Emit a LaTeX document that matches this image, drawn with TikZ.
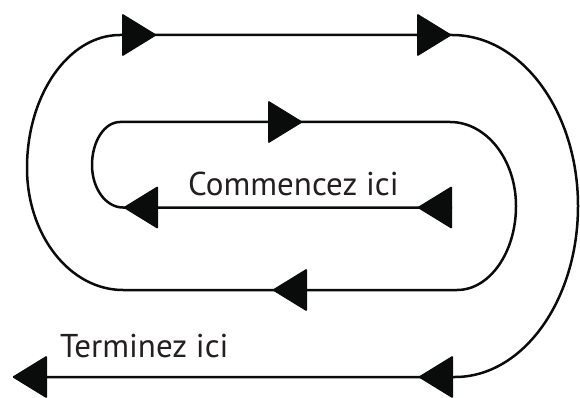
\documentclass[tikz,border=0pt]{standalone}
\usepackage{fontspec}
\setmainfont{PT Sans}
\definecolor{ink}{HTML}{0A0C0C}
\definecolor{txt}{HTML}{231F20}
\begin{document}
\begin{tikzpicture}[x=1pt,y=-1pt,
  track/.style={line width=2.5pt, draw=ink, line join=round},
  lbl/.style={font=\fontsize{33}{36}\selectfont, text=txt, inner sep=0pt, anchor=base west},
  arrR/.pic={\fill[ink, rounded corners=1.2pt] (0,0) -- (-35,-21.5) -- (-35,21.5) -- cycle;},
  arrL/.pic={\fill[ink, rounded corners=1.2pt] (0,0) -- (35,-21.5) -- (35,21.5) -- cycle;}]
\useasboundingbox (0,0) rectangle (580,398);
% path points
\coordinate (S) at (452,207.5);
\coordinate (H) at (123,207.5);
\coordinate (M4) at (92,165);
\coordinate (G) at (120,122);
\coordinate (C) at (450,122);
\coordinate (M2) at (516,206);
\coordinate (D) at (457,290);
\coordinate (F) at (123,290);
\coordinate (M3) at (27,168);
\coordinate (E) at (120,35);
\coordinate (A) at (452,35);
\coordinate (M1) at (578,206);
\coordinate (B) at (455,377);
\coordinate (T) at (45,377);
% arrow tips
\coordinate (t1) at (417,207.5);
\coordinate (t2) at (123,207.5);
\coordinate (t3) at (303,122);
\coordinate (t4) at (272,290);
\coordinate (t5) at (157,35);
\coordinate (t6) at (452,35);
\coordinate (t7) at (418,377);
\coordinate (t8) at (12,377);
% the track
\draw[track] (S) -- (H)
  .. controls (105.9,207.5) and (92,188.5) .. (M4)
  .. controls (92,141.3) and (104.5,122) .. (G)
  -- (C)
  .. controls (486.4,122) and (516,159.6) .. (M2)
  .. controls (516,252.4) and (489.6,290) .. (D)
  -- (F)
  .. controls (70,290) and (27,235.3) .. (M3)
  .. controls (27,94.6) and (68.7,35) .. (E)
  -- (A)
  .. controls (521.6,35) and (578,111.6) .. (M1)
  .. controls (578,300.4) and (522.9,377) .. (B)
  -- (T);
% arrowheads
\pic at (t1) {arrL};
\pic at (t2) {arrL};
\pic at (t3) {arrR};
\pic at (t4) {arrL};
\pic at (t5) {arrR};
\pic at (t6) {arrR};
\pic at (t7) {arrL};
\pic at (t8) {arrL};
% labels
\node[lbl] (start) at (188,195) {Commencez ici};
\node[lbl] (finish) at (60,357) {Terminez ici};
\end{tikzpicture}
\end{document}
